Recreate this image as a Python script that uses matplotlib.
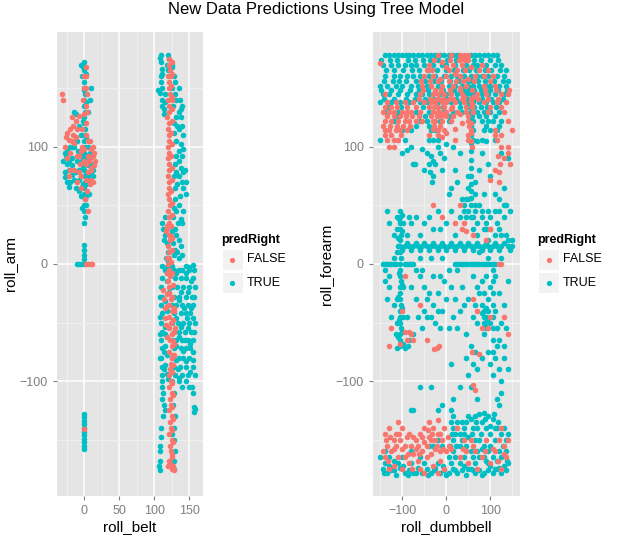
import matplotlib.pyplot as plt
import numpy as np
from matplotlib.patches import Rectangle
from matplotlib.lines import Line2D

plt.rcParams['font.family'] = ['Liberation Sans', 'DejaVu Sans']

col_false = '#F8766D'
col_true = '#00BFC4'

# ---- left panel: roll_belt vs roll_arm ----
belt_arm_true = [
    # column at roll_belt ~ 0
    (0, 172), (0, 165), (1, 160), (0, 155), (0, 150), (1, 145), (0, 140), (0, 135),
    (1, 130), (0, 125), (0, 120), (1, 115), (0, 110), (0, 105), (1, 100), (0, 95),
    (0, 90), (1, 85), (0, 80), (0, 75), (1, 70), (0, 65), (0, 60), (1, 55), (0, 50),
    (2, 50), (0, 45), (1, 40), (0, 35),
    (-2, 168), (2, 162), (-1, 148), (2, 138), (-2, 122), (2, 108), (-1, 92), (2, 78),
    (-2, 68), (2, 58), (-3, 48),
    # spread around the column
    (-28, 95), (-25, 85), (-22, 80), (-28, 78), (-20, 70), (-15, 72), (-12, 65),
    (-18, 90), (-10, 88), (-8, 80), (-5, 75), (-2, 82), (-15, 100), (-10, 105),
    (-5, 110), (-20, 100), (5, 100), (8, 95), (10, 85), (12, 80), (5, 75), (3, 68),
    (-5, 58), (-8, 62), (7, 60), (-25, 70), (-30, 88), (-12, 128), (-8, 118), (5, 130),
    (8, 140), (10, 150), (-3, 160), (-5, 170), (-14, 130), (-18, 76), (-6, 92),
    (-24, 98), (4, 88), (9, 78), (-3, 66),
    (-26, 92), (-22, 88), (-18, 84), (-12, 78), (-8, 72), (-3, 88), (6, 84), (10, 92),
    (13, 75), (-27, 74), (-22, 66), (-17, 100), (-9, 96), (3, 93), (6, 70),
    # near zero
    (-10, 0), (-7, 0), (-4, 0), (-1, 0), (0, 4), (0, 8), (0, 12), (0, 16),
    # bottom group
    (0, -128), (0, -131), (0, -134), (0, -137), (0, -140), (0, -143), (0, -146),
    (0, -149), (0, -152), (0, -155), (0, -158),
    # second group, upper part
    (110, 178), (110, 172), (111, 166), (110, 160), (110, 155), (112, 150), (105, 148),
    (108, 146), (112, 140), (115, 138), (114, 132), (114, 128), (120, 178), (122, 175),
    (120, 165), (125, 168), (128, 160), (130, 155), (130, 145), (135, 150), (137, 140),
    (140, 135), (135, 130), (132, 125), (138, 125), (140, 118), (135, 115), (128, 112),
    (132, 105), (138, 102), (142, 98), (140, 92), (135, 88), (130, 85), (132, 78),
    (136, 75), (140, 70), (144, 80), (142, 65), (145, 60), (130, 65), (130, 55),
    (135, 50), (132, 45), (138, 38), (140, 35), (130, 30), (132, 25), (135, 20),
    (138, 15), (130, 12), (128, 8), (135, 5), (125, 52), (127, 40), (126, 28),
    (124, 22), (113, 30), (115, 25), (116, 40), (118, 18), (120, 10), (120, 2),
    (125, -2), (112, -2), (145, -2), (150, -3), (155, -1),
    (126, 170), (118, 170), (108, 176), (112, 162), (126, 150), (127, 135), (131, 140),
    (138, 132), (128, 120), (133, 118), (141, 110), (136, 96), (131, 92), (138, 82),
    (128, 75), (141, 78), (133, 68), (145, 70), (137, 58), (128, 48), (141, 45),
    (134, 35), (127, 18), (133, 10), (140, 8), (112, 35), (114, 20), (117, 5),
    (118, -8), (115, 145), (112, 135),
    # second group, lower dense part
    (115, -5), (128, -5), (135, -5), (140, -5), (150, -5), (157, -5),
    (112, -12), (130, -12), (138, -12), (145, -12), (155, -12),
    (110, -20), (126, -20), (133, -20), (142, -20), (150, -20), (158, -20),
    (112, -28), (128, -28), (136, -28), (146, -28), (154, -28),
    (110, -35), (126, -35), (132, -35), (140, -35), (148, -35), (156, -35),
    (112, -42), (128, -42), (138, -42), (145, -42), (152, -42),
    (110, -50), (126, -50), (134, -50), (142, -50), (150, -50), (158, -50),
    (112, -58), (128, -58), (136, -58), (144, -58), (153, -58),
    (110, -65), (126, -65), (132, -65), (140, -65), (148, -65), (156, -65),
    (112, -72), (128, -72), (138, -72), (146, -72), (152, -72),
    (110, -80), (126, -80), (135, -80), (142, -80), (150, -80),
    (112, -88), (128, -88), (137, -88), (145, -88), (155, -88),
    (111, -95), (130, -95), (140, -95), (148, -95), (158, -95),
    (118, -3), (132, -8), (145, -8), (153, -15), (118, -15), (122, -24), (139, -24),
    (148, -24), (157, -28), (116, -32), (135, -31), (143, -38), (153, -38), (118, -40),
    (131, -46), (147, -46), (155, -46), (116, -54), (139, -54), (148, -55), (157, -58),
    (118, -62), (135, -62), (144, -65), (152, -68), (116, -70), (132, -70), (142, -74),
    (156, -75), (118, -78), (131, -82), (146, -83), (155, -82), (116, -86), (134, -90),
    (152, -92), (118, -94), (136, -97), (145, -100), (115, -60), (114, -75),
    (114, -90), (109, -45), (109, -28), (108, -60), (108, -80), (120, -98),
    (112, -100), (125, -100), (135, -100), (140, -105), (150, -105), (154, -105),
    (155, -110), (157, -122), (157, -126), (159, -124),
    (112, -105), (113, -110), (112, -115), (114, -120), (115, -125), (113, -130),
    (110, -140), (110, -148), (109, -155), (108, -160), (108, -168), (107, -172),
    (108, -176), (128, -110), (127, -120), (130, -130), (128, -140), (129, -150),
    (130, -160), (128, -168), (129, -175), (125, -145),
]

belt_arm_false = [
    (2, 168), (3, 160), (0, 150), (4, 145), (2, 135), (-1, 128), (3, 120), (2, 110),
    (5, 105), (0, 98), (6, 92), (3, 85), (5, 78), (2, 72), (4, 62), (1, 55), (5, 45),
    (-2, 140), (-3, 115), (-5, 96), (7, 88), (9, 80), (10, 72), (8, 68), (12, 92),
    (14, 95), (-8, 92), (-6, 85), (-4, 75),
    (-3, 100), (0, 88), (10, 82), (14, 84), (-18, 105), (-24, 112), (-12, 108),
    (-20, 80), (-7, 78), (4, 130), (2, 150), (-1, 160), (8, 90), (12, 100), (-28, 100),
    (-10, 92),
    (-32, 145), (-30, 140), (-18, 125), (-12, 122), (-8, 126), (-16, 118), (-20, 115),
    (-10, 115), (-26, 108), (-22, 106), (-16, 110), (-14, 103), (-25, 90), (-20, 95),
    (-15, 80), (-22, 75), (-10, 70), (-5, 65), (12, 70), (15, 88), (10, 98), (8, 105),
    (3, 0), (6, 0), (9, 0), (11, 0), (0, -141),
    # dense column in second group
    (122, 175), (121, 170), (123, 165), (120, 160), (122, 155), (121, 150), (123, 145),
    (120, 140), (122, 135), (121, 130), (119, 125), (122, 120), (120, 115), (121, 110),
    (122, 105), (120, 100), (121, 95), (120, 90), (122, 85), (121, 80), (120, 75),
    (121, 70), (122, 65), (120, 60), (121, 55), (123, 50), (120, 45), (121, 40),
    (122, 35), (119, 30), (121, 25), (123, 20), (120, 15), (121, 10), (122, 5),
    (120, 0), (121, -5), (123, -10), (120, -15), (122, -20), (121, -25), (124, -30),
    (122, -35), (125, -40), (121, -45), (124, -50), (122, -55), (126, -60), (123, -65),
    (125, -70), (122, -75), (126, -80), (124, -85), (123, -90), (121, -95),
    (124, -100), (122, -105), (125, -110), (123, -115), (124, -120), (122, -125),
    (125, -130), (123, -135), (124, -140), (122, -145), (125, -150), (123, -155),
    (124, -160), (125, -165), (123, -170), (125, -175), (127, -172), (121, -168),
    (125, 172), (126, 162), (124, 152), (125, 142), (126, 132), (125, 122), (124, 112),
    (126, 102), (124, 92), (125, 82), (126, 72), (124, 62), (125, 52), (126, 42),
    (124, 32), (126, 22), (125, 12), (124, 2), (126, -8), (127, -18), (126, -28),
    (128, -38), (127, -48), (129, -58), (128, -68), (127, -78), (126, -92),
    (125, -102), (127, -112), (126, -122), (127, -132), (126, -142), (127, -152),
    (126, -162), (128, -176), (120, -172), (118, -36), (117, -52), (119, -62),
    (118, -8), (119, 5), (117, 28),
    (113, -22), (114, -30), (116, -38), (115, -46), (118, -26), (128, -40), (130, -55),
    (127, -66), (129, -78), (127, -86), (124, 24), (118, 32), (125, 140), (124, 160),
]

# ---- right panel: roll_dumbbell vs roll_forearm ----
dumb_fore_true = [
    # top band
    (-140, 178), (-130, 178), (-120, 178), (-110, 178), (-100, 178), (-92, 178),
    (-85, 178), (-75, 178), (-65, 178), (-55, 178), (-45, 178), (-35, 178), (-25, 178),
    (-15, 178), (-5, 178), (5, 178), (15, 178), (25, 178), (55, 178), (65, 178),
    (75, 178), (85, 178), (95, 178), (105, 178), (115, 178),
    (-148, 174), (-128, 174), (-112, 174), (-88, 174), (-72, 174), (-52, 174),
    (-38, 174), (-18, 174), (2, 174), (22, 174), (62, 174), (78, 174), (98, 174),
    (118, 174),
    (-145, 170), (-125, 170), (-110, 170), (-95, 170), (-80, 170), (-70, 170),
    (-50, 170), (-30, 170), (-10, 170), (0, 170), (20, 170), (45, 170), (60, 170),
    (70, 170), (90, 170), (110, 170), (125, 170),
    (-138, 165), (-118, 165), (-98, 165), (-78, 165), (-62, 165), (-42, 165),
    (-22, 165), (-2, 165), (18, 165), (38, 165), (52, 165), (68, 165), (88, 165),
    (102, 165), (122, 165), (135, 165),
    (-140, 160), (-120, 160), (-105, 160), (-90, 160), (-75, 160), (-60, 160),
    (-40, 160), (-25, 160), (-5, 160), (10, 160), (25, 160), (40, 160), (55, 160),
    (70, 160), (80, 160), (95, 160), (115, 160), (130, 160),
    (-142, 156), (-122, 156), (-108, 156), (-92, 156), (-68, 156), (-48, 156),
    (-28, 156), (-12, 156), (8, 156), (28, 156), (48, 156), (58, 156), (72, 156),
    (88, 156), (108, 156), (128, 156), (140, 156),
    (-150, 152), (-135, 152), (-115, 152), (-100, 152), (-80, 152), (-65, 152),
    (-45, 152), (-20, 152), (5, 152), (20, 152), (35, 152), (50, 152), (60, 152),
    (75, 152), (90, 152), (100, 152), (120, 152), (135, 152),
    (-148, 148), (-125, 148), (-105, 148), (-82, 148), (-62, 148), (-42, 148),
    (-8, 148), (18, 148), (42, 148), (52, 148), (62, 148), (78, 148), (98, 148),
    (118, 148), (138, 148),
    (-145, 145), (-130, 145), (-110, 145), (-90, 145), (-70, 145), (-55, 145),
    (-40, 145), (-15, 145), (0, 145), (25, 145), (45, 145), (55, 145), (65, 145),
    (80, 145), (95, 145), (110, 145), (130, 145),
    (-142, 141), (-118, 141), (-92, 141), (-72, 141), (-48, 141), (-28, 141),
    (-2, 141), (22, 141), (48, 141), (62, 141), (82, 141), (102, 141), (128, 141),
    (-150, 138), (-125, 138), (-105, 138), (-85, 138), (-60, 138), (-45, 138),
    (-20, 138), (10, 138), (30, 138), (50, 138), (60, 138), (75, 138), (90, 138),
    (105, 138), (120, 138),
    (-132, 134), (-102, 134), (-52, 134), (-8, 134), (32, 134), (52, 134), (62, 134),
    (78, 134), (92, 134), (112, 134),
    (-140, 130), (-110, 130), (-70, 130), (-40, 130), (-5, 130), (15, 130), (35, 130),
    (55, 130), (70, 130), (85, 130), (100, 130), (120, 130),
    (-112, 126), (-48, 126), (5, 126), (58, 126), (75, 126), (90, 126), (110, 126),
    (-120, 122), (-60, 122), (-45, 122), (-15, 122), (5, 122), (55, 122), (60, 122),
    (80, 122), (95, 122), (105, 122), (125, 122),
    (-70, 118), (-40, 118), (57, 118), (90, 118), (120, 118),
    (-100, 114), (-80, 114), (-35, 114), (-25, 114), (55, 114), (60, 114), (85, 114),
    (100, 114), (115, 114),
    (-150, 106), (-95, 106), (-40, 106), (-30, 106), (-20, 106), (60, 106), (80, 106),
    (110, 106),
    # diagonal cluster and column near 55
    (-55, 98), (-45, 95), (-35, 92), (-30, 88), (-25, 85), (-40, 85), (-50, 80),
    (-38, 78), (-30, 75), (-32, 70), (-20, 100), (-15, 95), (-5, 90), (0, 102),
    (-10, 80), (-72, 85), (-75, 85), (-100, 95), (-90, 97), (-80, 100),
    (57, 125), (56, 118), (57, 110), (56, 103), (57, 96), (56, 89), (57, 82), (56, 75),
    (57, 68), (56, 62), (57, 56), (56, 50), (50, 75), (50, 65), (50, 55), (65, 70),
    (65, 60), (65, 50),
    (70, 105), (80, 95), (90, 105), (95, 85), (100, 75), (110, 60), (120, 55),
    (130, 65), (135, 50), (140, 90), (125, 95), (85, 60), (75, 80), (30, 95), (20, 80),
    (25, 70), (10, 65), (35, 55), (40, 45), (45, 40), (60, 40), (70, 35), (80, 45),
    (90, 30), (100, 40), (110, 45), (120, 30), (130, 40), (145, 45), (140, 20),
    (15, 100), (5, 60),
    # middle band
    (-105, 45), (-105, 40), (-106, 35), (-105, 30), (-104, 25), (-105, 20), (-106, 15),
    (-105, 10), (-104, 5), (-105, 0), (-106, -5), (-105, -10), (-104, -15),
    (-105, -20), (-106, -25), (-105, -30), (-104, -35), (-105, -40), (-106, -45),
    (-105, -50), (-104, -55), (-105, -60), (-106, -65), (-105, -70),
    (-112, 40), (-112, 30), (-112, 10), (-112, -30), (-112, -50), (-98, 35),
    (-98, -20), (-98, -45),
    (-100, 42), (-108, 38), (-100, 28), (-110, 22), (-100, 12), (-108, -8),
    (-100, -18), (-110, -28), (-100, -38), (-108, -48), (-100, -58), (-110, -62),
    (-98, -68), (-112, -72), (-95, -72), (-88, -70),
    (-110, 15), (-95, 15), (-85, 15), (-75, 15), (-65, 15), (-55, 15), (-45, 15),
    (-35, 15), (-25, 15), (-15, 15), (-5, 15), (5, 15), (15, 15), (25, 15), (35, 15),
    (45, 15), (55, 15), (65, 15), (75, 15), (85, 15), (95, 15), (105, 15), (115, 15),
    (125, 15), (140, 15), (150, 15),
    (-90, 18), (-70, 18), (-50, 18), (-30, 18), (-10, 18), (10, 18), (30, 18),
    (50, 18), (70, 18), (90, 18), (110, 18), (130, 18), (-80, 12), (-60, 12),
    (-40, 12), (-20, 12), (0, 12), (20, 12), (40, 12), (60, 12), (80, 12), (100, 12),
    (120, 12), (145, 12),
    (-145, 0), (-135, 0), (-125, 0), (-115, 0), (-95, 0), (-85, 0), (-75, 0),
    (20, 0), (30, 0), (40, 0), (50, 0), (60, 0), (70, 0), (80, 0), (90, 0), (100, 0),
    (110, 0), (25, 0), (35, 0), (45, 0), (55, 0), (65, 0), (75, 0), (85, 0), (95, 0),
    (105, 0), (-140, 0), (-130, 0), (-120, 0), (-90, 0), (-80, 0),
    (-140, -5), (-130, -20), (-120, -35), (-90, -45), (-85, -65), (-75, -60),
    (-80, 35), (-70, 40), (-60, 25), (-50, 35), (-40, 40), (-30, 30), (-20, 45),
    (-15, 30), (0, 35), (10, 45), (20, 25), (-60, -10), (-50, -20), (-40, -25),
    (-30, -35), (-20, -25), (-10, -40), (0, -30), (10, -20), (-25, -50), (-45, -45),
    (-55, -55), (-15, -55), (5, -55), (15, -45), (25, -5), (35, -20), (40, -35),
    (50, -30), (60, -45), (70, -50), (80, -35), (85, -40), (90, -45), (95, -30),
    (85, -50), (90, -55), (100, -20), (110, -10), (120, -25), (130, -35), (140, -15),
    (125, 5), (135, 25), (150, 20), (60, 30), (70, 25), (80, 40), (90, 35), (100, 30),
    (110, 25), (120, 45), (75, 10), (95, 5), (45, -60), (55, -70), (65, -75),
    (60, -85),
    (40, 50), (50, 45), (55, 40), (45, 55), (30, 40), (65, 45), (75, 50), (85, 30),
    (95, 45), (115, 35), (125, 25), (130, 50), (95, 20), (60, -10), (70, -20),
    (80, -15), (90, -10), (75, -25), (65, -35), (85, -25), (95, -40), (100, -50),
    (110, -40), (115, -55), (125, -50), (120, -65), (130, -70), (135, -55),
    (-140, -15), (-135, -30), (-125, -45), (-115, -60), (-130, -10), (-70, -5),
    (-60, 5), (-35, 5), (-10, 5), (5, -5), (-80, -20), (-70, -30), (-90, 25),
    (-85, 40), (-120, 25), (-130, 35), (-135, 45), (-120, 5), (-30, -10), (-15, -10),
    (-5, -15), (20, -30), (30, -40), (25, -55), (-20, -40), (-35, -45), (-45, -30),
    (-50, -40), (-65, -45), (-55, -5), (85, -45), (90, -38), (80, -42), (88, -52),
    (92, -48),
    (105, -5), (105, -15), (105, -25), (105, -35), (105, -45), (105, -55), (105, -65),
    (105, -75),
    # lower middle
    (45, -80), (50, -95), (55, -105), (70, -90), (80, -80), (95, -75), (100, -85),
    (105, -95), (110, -80), (115, -70), (120, -90), (125, -100), (125, -110),
    (120, -120), (130, -80), (140, -90), (30, -105), (15, -115), (-10, -120),
    (-20, -125), (-35, -105), (-60, -105), (-80, -125), (-75, -125), (10, -85),
    (70, -115), (115, -115), (85, -60),
    # bottom band
    (-145, -175), (-135, -178), (-125, -176), (-115, -180), (-105, -174), (-95, -178),
    (-85, -176), (-75, -178), (-65, -174), (-55, -178), (-45, -175), (-35, -178),
    (-25, -174), (-15, -178), (-5, -176), (5, -178), (15, -175), (25, -178),
    (35, -176), (45, -180), (55, -175), (65, -178), (75, -176), (85, -178),
    (95, -176), (105, -178), (115, -175), (125, -178), (135, -176), (140, -170),
    (-140, -170), (-110, -170), (-80, -170), (-50, -170), (-20, -170), (10, -170),
    (-142, -178), (-130, -172), (-118, -176), (-98, -172), (-88, -180), (-68, -178),
    (-42, -180), (-28, -176), (-8, -172), (0, -180), (20, -176), (40, -172),
    (60, -176), (80, -180), (100, -172), (120, -174), (130, -172),
    (15, -130), (15, -140), (15, -150), (15, -160), (10, -125), (10, -135),
    (25, -135), (35, -135), (45, -135), (55, -132), (65, -130), (75, -128), (85, -127),
    (95, -130), (105, -132), (115, -140), (125, -145), (135, -150), (30, -145),
    (40, -145), (50, -148), (60, -140), (70, -140), (80, -135), (90, -140),
    (100, -145), (110, -150), (120, -160), (30, -155), (40, -165), (55, -160),
    (65, -150), (75, -150), (85, -155), (95, -160), (105, -165), (115, -168),
    (125, -165), (135, -160), (60, -165), (70, -160), (80, -158), (90, -168),
    (100, -155), (110, -140), (130, -140), (140, -145), (20, -165), (50, -175),
    (20, -145), (22, -155), (35, -150), (45, -155), (58, -145), (68, -135),
    (78, -145), (88, -132), (98, -138), (108, -128), (118, -135), (128, -155),
    (138, -168), (50, -130), (40, -140), (85, -165), (95, -170), (75, -165),
    (65, -170), (110, -175), (30, -170), (5, -165), (12, -145), (8, -155),
    (-10, -155), (-20, -150), (-30, -155), (-40, -155), (-60, -165), (-80, -160),
    (-100, -165), (-120, -168), (-130, -165), (-140, -160), (-150, -165),
]

dumb_fore_false = [
    (-150, 171), (-20, 178), (10, 178), (30, 178), (35, 176), (40, 178),
    (45, 176), (50, 178),
    (-28, 174), (8, 174), (28, 174), (32, 174), (42, 174), (48, 174),
    (-40, 170), (15, 170), (35, 170), (80, 170), (-10, 172), (0, 168), (55, 168),
    (-45, 165), (-32, 165), (5, 165), (25, 165), (42, 165), (75, 165), (95, 165),
    (-50, 160), (-30, 160), (0, 160), (30, 160), (20, 162), (50, 158),
    (65, 160), (85, 160), (105, 160),
    (-58, 156), (-38, 156), (-18, 156), (5, 156), (-15, 158),
    (22, 156), (38, 156), (62, 156), (98, 156),
    (-55, 152), (-35, 152), (-10, 152), (15, 152), (45, 152), (30, 150),
    (85, 152), (110, 152),
    (-52, 148), (-25, 148), (-12, 148), (8, 148), (32, 148), (58, 148), (88, 148),
    (112, 148), (142, 148),
    (-140, 145), (-60, 145), (-30, 145), (-20, 145), (-5, 145), (10, 145), (35, 145),
    (70, 145), (90, 145), (125, 145), (140, 145),
    (-62, 141), (-38, 141), (-18, 141), (-8, 141), (5, 141), (15, 141), (35, 141),
    (40, 142), (56, 141), (72, 141), (95, 141), (118, 141),
    (-135, 138), (-115, 138), (-95, 138), (-75, 138), (-50, 138), (-35, 138),
    (-25, 138), (-10, 138), (0, 138), (20, 138), (40, 138), (55, 138), (85, 138),
    (115, 138), (135, 138), (-25, 140),
    (-140, 134), (-125, 134), (-112, 134), (-90, 134), (-70, 134), (-40, 134),
    (-28, 134), (-18, 134), (-5, 134), (12, 134), (45, 134), (58, 134), (100, 134),
    (125, 134), (10, 132),
    (-145, 130), (-130, 130), (-120, 130), (-100, 130), (-90, 130), (-80, 130),
    (-60, 130), (-30, 130), (-20, 130), (-15, 130), (0, 130), (25, 130), (45, 130),
    (60, 130), (95, 130), (130, 130), (30, 128), (-5, 128),
    (-135, 126), (-120, 126), (-105, 126), (-92, 126), (-78, 126), (-62, 126),
    (-35, 126), (-22, 126), (-12, 126), (0, 126), (15, 126), (48, 126),
    (-140, 122), (-125, 122), (-110, 122), (-95, 122), (-85, 122), (-70, 122),
    (-55, 122), (-30, 122), (-25, 122), (-10, 122), (10, 122), (50, 122), (140, 122),
    (35, 120), (55, 120),
    (-145, 118), (-128, 118), (-112, 118), (-98, 118), (-82, 118), (-28, 118),
    (-15, 118), (52, 118), (20, 115), (-30, 115),
    (-140, 114), (-130, 114), (-115, 114), (-105, 114), (-90, 114), (-20, 114),
    (-5, 114), (55, 114), (110, 114), (150, 114), (0, 112), (57, 112),
    (-140, 110), (-125, 110), (-102, 110), (50, 110), (110, 110), (125, 110),
    (-20, 110), (-10, 108), (-40, 110), (55, 105),
    (-135, 106), (-120, 106), (-110, 106), (20, 106), (50, 106), (115, 106),
    (-130, 100), (-118, 100), (125, 100), (140, 100), (58, 100),
    (58, 136), (60, 142),
    (120, 70), (120, 78), (122, 85), (118, 92), (130, 90), (140, 95),
    (145, 85), (110, 80), (100, 72),
    (30, 50), (40, 35), (35, 30), (45, 28), (20, 35), (60, 25), (90, 20), (100, 30),
    (-10, 40), (-30, 50), (120, 0), (125, 0),
    (-28, -73), (-22, -72), (-16, -70), (59, -75), (75, -77), (60, -103), (65, -108),
    (-125, -55), (-130, -70), (-95, -58), (-90, -65), (-80, -60), (-75, -65),
    (-105, -68), (-85, -58), (-100, -40), (-95, -10), (-60, -35), (-45, -65),
    (60, -30), (70, -40), (80, -55), (95, -55), (100, -45), (130, -45), (140, -60),
    (-140, -145), (-130, -140), (-120, -150), (-135, -155), (-125, -160),
    (-115, -145), (-105, -150), (-140, -165), (-110, -165), (-100, -158),
    (-90, -148), (-80, -155), (-70, -150), (-60, -145), (-50, -152), (-40, -148),
    (-30, -140), (-20, -145), (-10, -150), (-5, -140), (0, -160), (5, -155),
    (-15, -160), (-25, -158), (-35, -162), (-45, -165), (-55, -160), (-65, -168),
    (-75, -162), (-85, -170), (-95, -165), (-120, -172), (-130, -175), (-60, -175),
    (-30, -172), (-40, -135), (-20, -133), (-50, -140), (-70, -158), (40, -150),
    (45, -160), (50, -170), (30, -165), (60, -155), (80, -165), (100, -170),
    (110, -160), (120, -150), (130, -155), (135, -165), (125, -175), (90, -150),
    (70, -175), (25, -140), (-100, -140), (-110, -135), (-15, -168), (-5, -175),
    (-145, -160), (-138, -150), (-128, -148), (-118, -158), (-108, -145),
    (-95, -155), (-85, -145), (-75, -148), (-65, -155), (-55, -148), (-45, -155),
    (-35, -150), (-25, -150), (-15, -145), (-8, -158), (3, -148), (-42, -142),
    (-32, -145), (-22, -155), (-62, -162), (-88, -162), (-115, -155), (-132, -168),
    (-100, -175), (-78, -175), (-50, -178), (-20, -178), (10, -158), (55, -150),
    (65, -160), (88, -160), (105, -158), (118, -168), (130, -162), (140, -150),
    (125, -140), (38, -158),
]

fig = plt.figure(figsize=(6.32, 5.41), dpi=100)
fig.text(0.5, 0.982, 'New Data Predictions Using Tree Model', ha='center', va='center',
         fontsize=12)

panels = [
    ([0.0902, 0.0832, 0.231, 0.858], belt_arm_true, belt_arm_false,
     'roll_belt', 'roll_arm', (-39, 170), [0, 50, 100, 150], [-25, 25, 75, 125]),
    ([0.590, 0.0832, 0.2326, 0.858], dumb_fore_true, dumb_fore_false,
     'roll_dumbbell', 'roll_forearm', (-167, 167), [-100, 0, 100], [-150, -50, 50, 150]),
]

for rect, pts_t, pts_f, xl, yl, xlim, xmaj, xmin in panels:
    ax = fig.add_axes(rect)
    ax.set_facecolor('#E5E5E5')
    for s in ax.spines.values():
        s.set_visible(False)
    ax.set_xlim(*xlim)
    ax.set_ylim(-198, 198)
    ax.set_xticks(xmaj)
    ax.set_xticks(xmin, minor=True)
    ax.set_yticks([-100, 0, 100])
    ax.set_yticks([-150, -50, 50, 150], minor=True)
    ax.grid(True, which='major', color='white', linewidth=1.1)
    ax.grid(True, which='minor', color='#F2F2F2', linewidth=0.6)
    ax.set_axisbelow(True)
    ax.tick_params(which='major', colors='#7F7F7F', labelsize=9, length=3, width=0.8,
                   labelcolor='#7F7F7F')
    ax.tick_params(which='minor', length=0)
    ax.set_xlabel(xl, fontsize=11, labelpad=2)
    ax.set_ylabel(yl, fontsize=11, labelpad=2)
    tx, ty = zip(*pts_t)
    fx, fy = zip(*pts_f)
    ax.scatter(tx, ty, s=16, color=col_true, linewidths=0, zorder=3)
    ax.scatter(fx, fy, s=16, color=col_false, linewidths=0, zorder=3)

# legends (ggplot style)
for x0 in [222 / 632, 538 / 632]:
    fig.text(x0 - 0.002, 1 - 240 / 541, 'predRight', fontsize=9, fontweight='bold',
             ha='left', va='center')
    for i, (lab, c) in enumerate([('FALSE', col_false), ('TRUE', col_true)]):
        ytop = 249 + i * 23
        fig.patches.append(Rectangle((x0, 1 - (ytop + 21) / 541), 21 / 632, 21 / 541,
                                     transform=fig.transFigure, facecolor='#F2F2F2',
                                     edgecolor='white', linewidth=0.8))
        fig.lines.append(Line2D([x0 + 10.5 / 632], [1 - (ytop + 10.5) / 541],
                                transform=fig.transFigure, marker='o', markersize=3.8,
                                color=c, markeredgewidth=0, linestyle='none'))
        fig.text(x0 + 25 / 632, 1 - (ytop + 10.5) / 541, lab, fontsize=9,
                 ha='left', va='center')

fig.savefig('out.png', dpi=100)
